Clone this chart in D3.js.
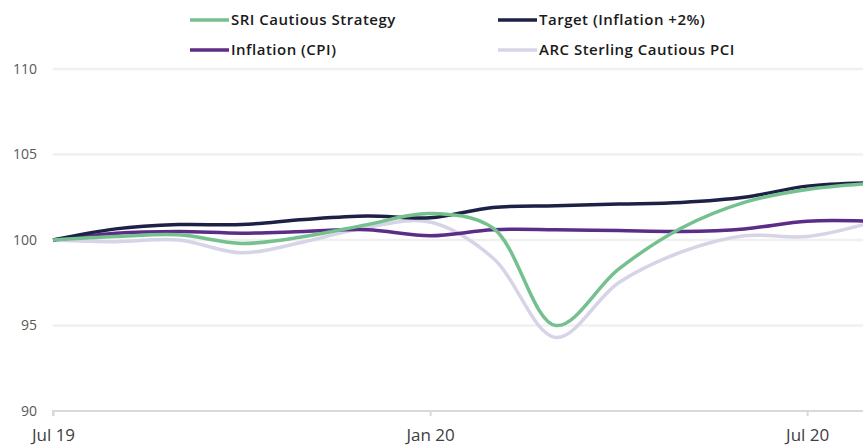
<!DOCTYPE html>
<html>
<head>
<meta charset="utf-8">
<script src="https://cdn.jsdelivr.net/npm/d3@7"></script>
<style>
  body { margin: 0; background: #fff; }
  svg { display: block; }
  .tick-y { font-family: "Open Sans", sans-serif; font-size: 14px; fill: #595959; }
  .tick-x { font-family: "Open Sans", sans-serif; font-size: 17px; fill: #404040; }
  .legend { font-family: "Open Sans", sans-serif; font-size: 15px; font-weight: 600; fill: #1a1a1a; letter-spacing: 0.5px; }
</style>
</head>
<body>
<div id="chart"></div>
<script>

  const months = ['Jul 19', 'Aug 19', 'Sep 19', 'Oct 19', 'Nov 19', 'Dec 19', 'Jan 20',
                  'Feb 20', 'Mar 20', 'Apr 20', 'May 20', 'Jun 20', 'Jul 20', 'Aug 20'];

  const sri_cautious = [100, 100.2, 100.3, 99.8, 100.2, 100.9, 101.55, 100.7, 95.0, 98.3, 100.7, 102.2, 102.95, 103.3];
  const target       = [100, 100.65, 100.9, 100.9, 101.2, 101.4, 101.3, 101.9, 102.0, 102.1, 102.2, 102.5, 103.15, 103.35];
  const inflation    = [100, 100.4, 100.5, 100.4, 100.5, 100.6, 100.25, 100.6, 100.6, 100.55, 100.5, 100.65, 101.1, 101.1];
  const arc_cautious = [100, 99.9, 100.0, 99.25, 99.9, 100.75, 101.05, 98.95, 94.3, 97.5, 99.3, 100.25, 100.2, 101.0];

  const y_ticks = [90, 95, 100, 105, 110];
  const x_tick_labels = ['Jul 19', 'Jan 20', 'Jul 20'];

  const series = [
    { name: 'ARC Sterling Cautious PCI', values: arc_cautious, color: '#d6d4e6' },
    { name: 'Inflation (CPI)',           values: inflation,    color: '#5b2d86' },
    { name: 'Target (Inflation +2%)',    values: target,       color: '#1c2145' },
    { name: 'SRI Cautious Strategy',     values: sri_cautious, color: '#74c08e' }
  ];

  const width = 863, height = 445;

  const svg = d3.select('#chart').append('svg')
    .attr('width', width)
    .attr('height', height);

  const x = d3.scaleLinear().domain([0, months.length - 1]).range([53, 870]);
  const y = d3.scaleLinear().domain([90, 110]).range([411, 69]);

  // gridlines
  svg.append('g')
    .selectAll('line')
    .data(y_ticks.filter(d => d !== 90))
    .join('line')
    .attr('x1', 53).attr('x2', width)
    .attr('y1', d => y(d)).attr('y2', d => y(d))
    .attr('stroke', '#f0f0f0')
    .attr('stroke-width', 2.5);

  // y labels
  svg.append('g')
    .selectAll('text')
    .data(y_ticks)
    .join('text')
    .attr('class', 'tick-y')
    .attr('x', 37)
    .attr('y', d => y(d))
    .attr('dy', '0.35em')
    .attr('text-anchor', 'end')
    .text(d => d);

  // x axis
  const x_axis = d3.axisBottom(x)
    .tickValues(x_tick_labels.map(m => months.indexOf(m)))
    .tickFormat(i => months[i])
    .tickSize(5)
    .tickPadding(13);

  const gx = svg.append('g')
    .attr('transform', 'translate(0,' + y(90) + ')')
    .call(x_axis);
  gx.select('.domain').attr('stroke', '#d9d9d9').attr('stroke-width', 2)
    .attr('d', 'M' + 53 + ',5V0H' + width);
  gx.selectAll('.tick line').attr('stroke', '#d9d9d9').attr('stroke-width', 2);
  gx.selectAll('.tick text').attr('class', 'tick-x');

  // lines
  const line = d3.line()
    .x((d, i) => x(i))
    .y(d => y(d))
    .curve(d3.curveCatmullRom.alpha(0.5));

  svg.append('g')
    .selectAll('path')
    .data(series)
    .join('path')
    .attr('d', d => line(d.values))
    .attr('fill', 'none')
    .attr('stroke', d => d.color)
    .attr('stroke-width', 3.5)
    .attr('stroke-linejoin', 'round');

  // legend
  const legend_items = [
    { name: 'SRI Cautious Strategy',     color: '#74c08e', lx: 190, ly: 20 },
    { name: 'Target (Inflation +2%)',    color: '#1c2145', lx: 498, ly: 20 },
    { name: 'Inflation (CPI)',           color: '#5b2d86', lx: 190, ly: 50 },
    { name: 'ARC Sterling Cautious PCI', color: '#d6d4e6', lx: 498, ly: 50 }
  ];

  const legend = svg.append('g')
    .selectAll('g')
    .data(legend_items)
    .join('g')
    .attr('transform', d => 'translate(' + d.lx + ',' + d.ly + ')');

  legend.append('line')
    .attr('x1', 0).attr('x2', 39)
    .attr('stroke', d => d.color)
    .attr('stroke-width', 3.5);

  legend.append('text')
    .attr('class', 'legend')
    .attr('x', 41)
    .attr('dy', '0.35em')
    .text(d => d.name);

</script>
</body>
</html>
